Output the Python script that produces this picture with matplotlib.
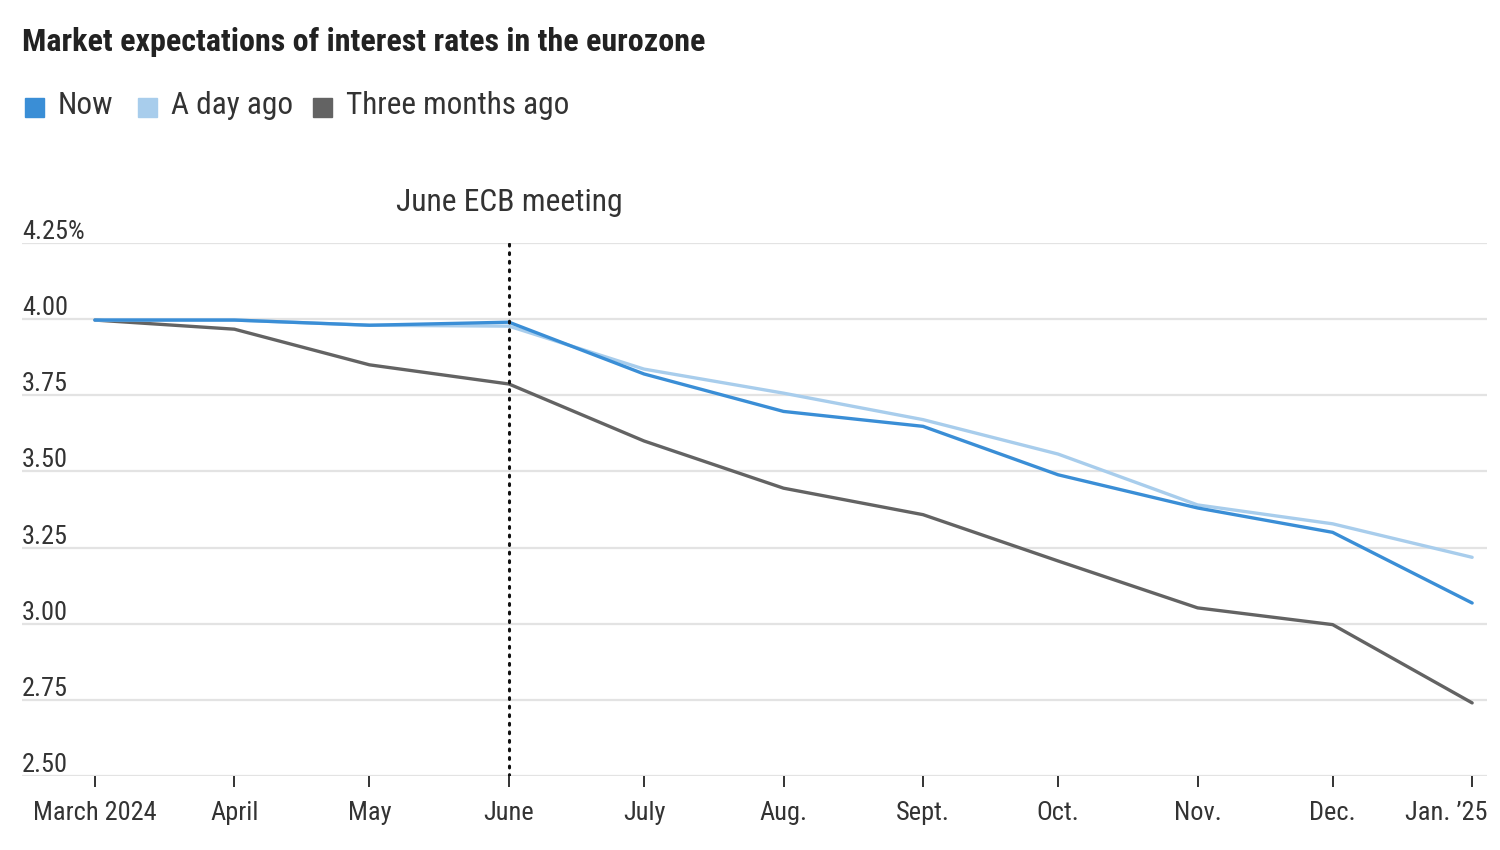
import matplotlib
matplotlib.use("Agg")
import matplotlib.pyplot as plt
import matplotlib.transforms as mtransforms
from matplotlib.patches import Rectangle
from datetime import datetime, timedelta

FONT = 'Roboto Condensed'
plt.rcParams['font.family'] = [FONT, 'DejaVu Sans']

# ---- data ----
months = [datetime(2024, m, 1) for m in range(3, 13)] + [datetime(2025, 1, 1)]
tick_labels = ["March 2024", "April", "May", "June", "July", "Aug.", "Sept.",
               "Oct.", "Nov.", "Dec.", "Jan. \u201925"]
now = [3.997, 3.997, 3.980, 3.990, 3.820, 3.697, 3.648, 3.489, 3.380, 3.300, 3.068]
day_ago = [3.997, 3.997, 3.980, 3.977, 3.836, 3.757, 3.670, 3.557, 3.390, 3.328, 3.218]
three_months = [3.997, 3.967, 3.850, 3.787, 3.600, 3.445, 3.358, 3.206, 3.052, 2.997, 2.740]
yticks = [2.50, 2.75, 3.00, 3.25, 3.50, 3.75, 4.00, 4.25]
ytick_labels = ["2.50", "2.75", "3.00", "3.25", "3.50", "3.75", "4.00", "4.25%"]
series_names = ["Now", "A day ago", "Three months ago"]
colors = ["#3a8ed6", "#a8cdec", "#636363"]
meeting_date = datetime(2024, 6, 1)
meeting_label = "June ECB meeting"
title = "Market expectations of interest rates in the eurozone"

W, H = 1500, 850
fig = plt.figure(figsize=(W / 100, H / 100), dpi=100)
fig.patch.set_facecolor("white")

left_px, right_px, top_px, bot_px = 22, 1487, 243, 776
ax = fig.add_axes([left_px / W, 1 - bot_px / H, (right_px - left_px) / W, (bot_px - top_px) / H])

x0 = months[0] - timedelta(days=16.2)
x1 = months[-1] + timedelta(days=3.3)
ax.set_xlim(x0, x1)
ax.set_ylim(2.50, 4.25)

for v in yticks:
    ax.axhline(v, color="#e3e3e3", lw=1.6, zorder=0)

ax.plot(months, three_months, color=colors[2], lw=2.4, solid_capstyle="round", zorder=3)
ax.plot(months, day_ago, color=colors[1], lw=2.4, solid_capstyle="round", zorder=4)
ax.plot(months, now, color=colors[0], lw=2.4, solid_capstyle="round", zorder=5)

ax.axvline(meeting_date, color="#111111", lw=2.2, linestyle=(0, (0.6, 2.2)),
           dash_capstyle="round", zorder=6)
ax.text(meeting_date, 4.25 + 0.085, meeting_label, ha="center", va="bottom",
        fontsize=22.8, color="#333333")

for s in ax.spines.values():
    s.set_visible(False)

ax.set_yticks([])
trans = mtransforms.blended_transform_factory(ax.transAxes, ax.transData)
off = mtransforms.offset_copy(trans, fig=fig, x=0, y=4, units="dots")
for v, lab in zip(yticks, ytick_labels):
    ax.text(0, v, lab, transform=off, ha="left", va="baseline", fontsize=19, color="#333333")

ax.set_xticks(months)
ax.set_xticklabels(tick_labels, fontsize=19, color="#333333")
ax.tick_params(axis="x", length=8, width=1.4, color="#333333", pad=10)
last = ax.get_xticklabels()[-1]
last.set_horizontalalignment("right")
last.set_transform(last.get_transform() + mtransforms.ScaledTranslation(15 / 100, 0, fig.dpi_scale_trans))

# title
fig.text(22 / W, 1 - 42 / H, title, fontsize=23, fontweight="bold", color="#222222",
         ha="left", va="center")

# legend
lx = [25, 138, 313]
for x, name, c in zip(lx, series_names, colors):
    fig.patches.append(Rectangle((x / W, 1 - 117 / H), 19 / W, 19 / H,
                                 transform=fig.transFigure, color=c, figure=fig))
    fig.text((x + 33) / W, 1 - 105 / H, name, fontsize=22.5, color="#333333",
             ha="left", va="center")

fig.savefig("out.png", dpi=100)
